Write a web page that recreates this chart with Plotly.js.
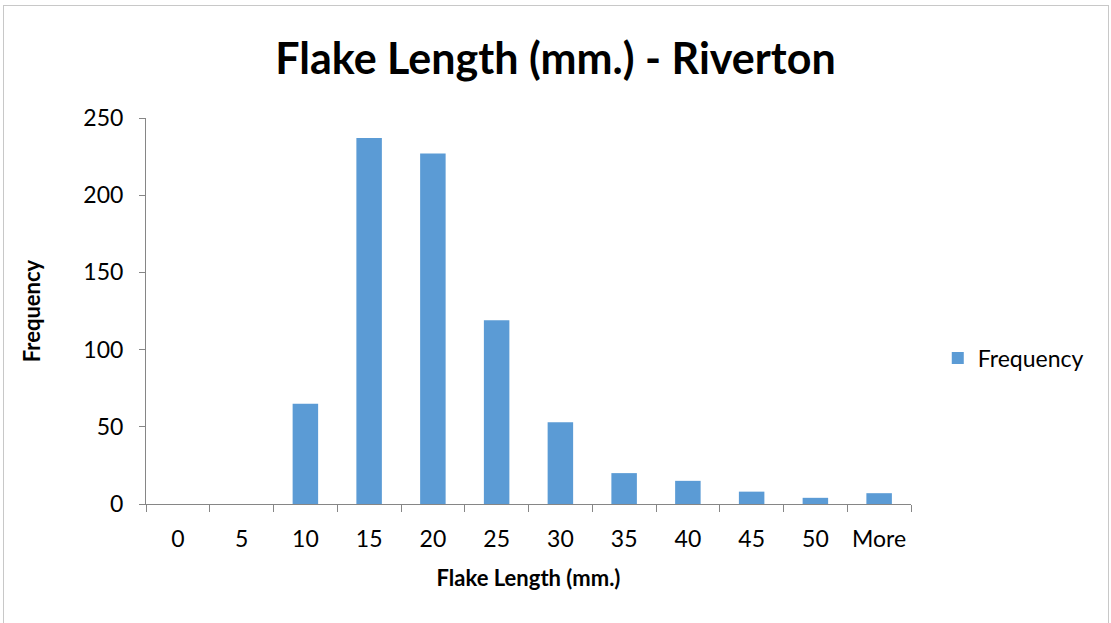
<!DOCTYPE html>
<html>
<head>
<meta charset="utf-8">
<script src="https://cdn.plot.ly/plotly-3.0.1.min.js"></script>
<style>
html,body{margin:0;padding:0;background:#fff;overflow:hidden;}
#chart{position:absolute;left:0;top:0;width:1111px;height:623px;}
#frame{position:absolute;left:3px;top:5px;width:1104px;height:700px;border:1px solid #c8c8c8;pointer-events:none;}
</style>
</head>
<body>
<div id="chart"></div>
<div id="frame"></div>
<script>
const categories = ["0","5","10","15","20","25","30","35","40","45","50","More"];
const frequency = [0,0,65,237,227,119,53,20,15,8,4,7];
const yTicks = [0,50,100,150,200,250];

const FONT = "Lato, 'Open Sans', sans-serif";

const trace = {
  type: "bar",
  x: categories,
  y: frequency,
  name: "Frequency",
  marker: {color: "#5B9BD5"},
  showlegend: true
};

const layout = {
  width: 1111, height: 623,
  margin: {l:146, r:200, t:118, b:119, pad:0},
  paper_bgcolor: "#fff", plot_bgcolor: "#fff",
  font: {family: FONT, color: "#000", size: 22},
  bargap: 0.6,
  title: {text: "<b>Flake Length (mm.) - Riverton</b>", font: {family: FONT, size: 43, color:"#000"}, x: 0.5, xanchor: "center", y: 0.905, yanchor: "middle"},
  xaxis: {
    type: "category",
    tickson: "boundaries",
    ticks: "outside", ticklen: 7, tickcolor: "#868686", tickwidth: 1,
    showline: true, linecolor: "#868686", linewidth: 1,
    showgrid: false, zeroline: false,
    tickfont: {family: FONT, size: 23},
    ticklabelstandoff: 14,
    title: {text: "<b>Flake Length (mm.)</b>", font: {family: FONT, size: 22}, standoff: 20}
  },
  yaxis: {
    range: [0,250],
    tickvals: yTicks,
    ticks: "outside", ticklen: 6, tickcolor: "#868686", tickwidth: 1,
    showline: true, linecolor: "#868686", linewidth: 1,
    showgrid: false, zeroline: false,
    tickfont: {family: FONT, size: 23},
    ticklabelstandoff: 11,
    title: {text: "<b>Frequency</b>", font: {family: FONT, size: 22}, standoff: 36}
  },
  legend: {x: 1.035, xanchor: "left", y: 0.378, yanchor: "middle", font: {family: FONT, size: 23}, bgcolor: "rgba(0,0,0,0)", itemwidth: 30}
};

Plotly.newPlot("chart", [trace], layout, {displayModeBar: false, staticPlot: true});
</script>
</body>
</html>
